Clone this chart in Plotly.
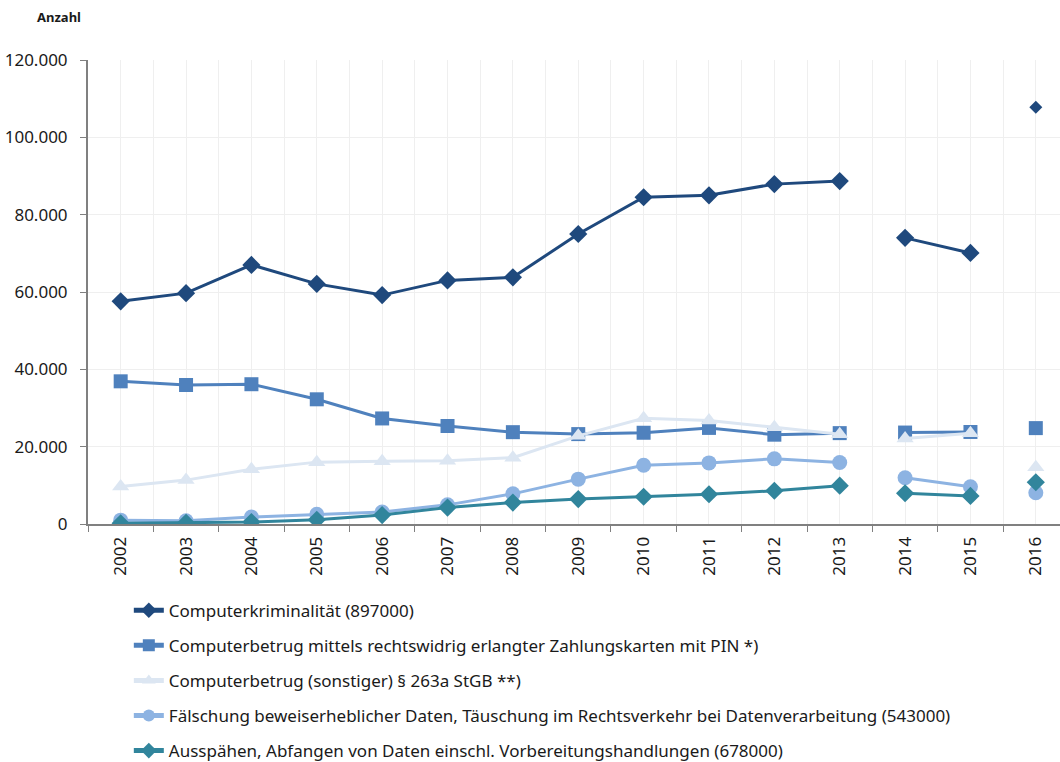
import plotly.graph_objects as go

years = [2002, 2003, 2004, 2005, 2006, 2007, 2008, 2009, 2010, 2011, 2012, 2013, 2014, 2015, 2016]
# years that start a new, unconnected line segment
segment_starts = [2002, 2014, 2016]

computerkriminalitaet = [57600, 59700, 67000, 62100, 59200, 63000, 63800, 75000, 84500, 85000, 87900, 88700, 74000, 70100, 107800]
betrug_pin = [36900, 35950, 36150, 32250, 27300, 25350, 23750, 23250, 23600, 24850, 23100, 23500, 23650, 23800, 24800]
betrug_sonstiger = [9700, 11350, 14150, 16000, 16200, 16350, 17150, 22800, 27350, 26750, 25000, 23200, 22100, 23450, 14700]
faelschung = [1000, 850, 1800, 2500, 3100, 4950, 7800, 11600, 15200, 15800, 16850, 15900, 11950, 9650, 8100]
ausspaehen = [200, 300, 500, 1100, 2300, 4250, 5550, 6450, 7050, 7700, 8600, 9900, 7950, 7250, 10800]

names = [
    "Computerkriminalität (897000)",
    "Computerbetrug mittels rechtswidrig erlangter Zahlungskarten mit PIN *)",
    "Computerbetrug (sonstiger) § 263a StGB **)",
    "Fälschung beweiserheblicher Daten, Täuschung im Rechtsverkehr bei Datenverarbeitung (543000)",
    "Ausspähen, Abfangen von Daten einschl. Vorbereitungshandlungen (678000)",
]
series = [computerkriminalitaet, betrug_pin, betrug_sonstiger, faelschung, ausspaehen]

y_ticks = [0, 20000, 40000, 60000, 80000, 100000, 120000]

colors = ["#1f497d", "#4f81bd", "#dce6f2", "#8db3e2", "#31859c"]
symbols = ["diamond", "square", "triangle-up", "circle", "diamond"]
msizes = [14, 14, 15, 15, 14]

font_family = "Noto Sans, Open Sans, DejaVu Sans, sans-serif"
FS = 17

fig = go.Figure()

bounds = []
for i, s in enumerate(segment_starts):
    i0 = years.index(s)
    i1 = years.index(segment_starts[i + 1]) if i + 1 < len(segment_starts) else len(years)
    bounds.append((i0, i1))

for k, (name, vals) in enumerate(zip(names, series)):
    for j, (i0, i1) in enumerate(bounds):
        xs = years[i0:i1]
        ys = vals[i0:i1]
        size = msizes[k]
        if k == 0 and xs == [2016]:
            size = 10
        fig.add_trace(go.Scatter(
            x=xs, y=ys, name=name,
            mode="lines+markers",
            line=dict(color=colors[k], width=3),
            marker=dict(symbol=symbols[k], size=size, color=colors[k]),
            legendgroup=name,
            showlegend=(j == 0),
            hoverinfo="x+y+name",
        ))

fig.update_layout(
    width=1060, height=762,
    margin=dict(l=88, r=0, t=60, b=238, autoexpand=False),
    paper_bgcolor="white", plot_bgcolor="white",
    font=dict(family=font_family, size=FS, color="#1a1a1a"),
    separators=",.",
    showlegend=True,
    legend=dict(
        x=0.042, xanchor="left", y=-0.148, yanchor="top",
        orientation="v", itemsizing="constant", itemwidth=30,
        tracegroupgap=10,
        font=dict(family=font_family, size=FS, color="#1a1a1a"),
        bgcolor="rgba(0,0,0,0)",
    ),
    annotations=[dict(
        text="<b>Anzahl</b>", xref="paper", yref="paper",
        x=-0.055, y=(524 - 17) / 464, xanchor="left", yanchor="middle",
        showarrow=False, font=dict(family=font_family, size=13, color="#1a1a1a"),
    )],
)

fig.update_xaxes(
    range=[2001.5, 2016.37],
    tickmode="array", tickvals=years, ticktext=[str(y) for y in years],
    tickangle=-90, ticks="", showgrid=True, gridcolor="#efefef", gridwidth=1,
    showline=True, linecolor="#808080", linewidth=2,
    ticklabelstandoff=4,
    zeroline=False, automargin=False,
    minor=dict(tickmode="array", tickvals=[y - 0.5 for y in years] + [2016.5],
               ticks="outside", ticklen=6, tickcolor="#808080", tickwidth=1,
               showgrid=True, gridcolor="#efefef", gridwidth=1),
    tickfont=dict(size=FS),
)

fig.update_yaxes(
    range=[0, 120000],
    tickmode="array", tickvals=y_ticks, tickformat=",d",
    ticks="outside", ticklen=6, tickcolor="#808080", tickwidth=1,
    ticklabelstandoff=9,
    showgrid=True, gridcolor="#efefef", gridwidth=1,
    showline=True, linecolor="#808080", linewidth=2,
    zeroline=False, automargin=False,
    tickfont=dict(size=FS),
)

fig.write_html("out.html", config={"displayModeBar": False},
               post_script="document.body.style.margin='0';")
